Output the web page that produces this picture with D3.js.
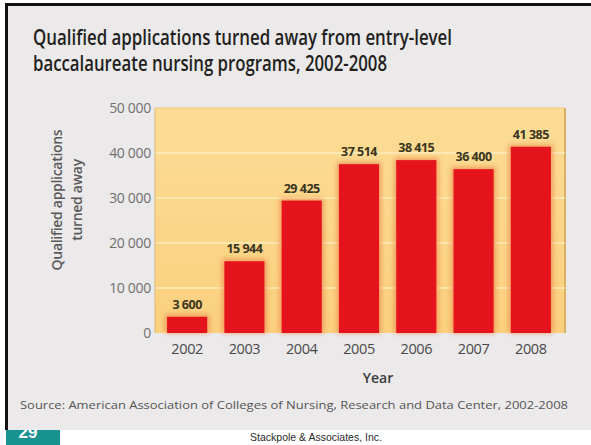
<!DOCTYPE html>
<html><head><meta charset="utf-8">
<script src="https://cdn.jsdelivr.net/npm/d3@7"></script>
<style>html,body{margin:0;padding:0;background:#fff;}svg{display:block;}</style>
</head><body>
<script>
const years = ["2002","2003","2004","2005","2006","2007","2008"];
const values = [3600, 15944, 29425, 37514, 38415, 36400, 41385];
const valueLabels = ["3 600","15 944","29 425","37 514","38 415","36 400","41 385"];
const yTicks = [0, 10000, 20000, 30000, 40000, 50000];
const yTickLabels = ["0","10 000","20 000","30 000","40 000","50 000"];
const titleLines = ["Qualified applications turned away from entry-level","baccalaureate nursing programs, 2002-2008"];
const yTitleLines = ["Qualified applications","turned away"];
const xTitle = "Year";
const sourceText = "Source: American Association of Colleges of Nursing, Research and Data Center, 2002-2008";
const footerText = "Stackpole & Associates, Inc.";
const pageNum = "29";

const W = 591, H = 445;
const svg = d3.select("body").append("svg").attr("width", W).attr("height", H);
const defs = svg.append("defs");
const grad = defs.append("linearGradient").attr("id","bg").attr("x1",0).attr("y1",0).attr("x2",0).attr("y2",1);
grad.append("stop").attr("offset","0%").attr("stop-color","#fcdc96");
grad.append("stop").attr("offset","100%").attr("stop-color","#fad07e");
const blur = defs.append("filter").attr("id","glow").attr("x","-30%").attr("y","-30%").attr("width","160%").attr("height","160%");
blur.append("feGaussianBlur").attr("stdDeviation",2.5);
defs.append("clipPath").attr("id","tealclip").append("rect").attr("x",6).attr("y",430).attr("width",54).attr("height",15);

// page background
svg.append("rect").attr("width",W).attr("height",H).attr("fill","#ffffff");
// teal page number box
svg.append("rect").attr("x",6).attr("y",430).attr("width",54).attr("height",15).attr("fill","#17928f");
svg.append("text").attr("clip-path","url(#tealclip)").attr("x",28).attr("y",438)
  .attr("text-anchor","middle").attr("font-family","Liberation Sans, Arial, sans-serif")
  .attr("font-weight","bold").attr("font-size",17).attr("fill","#fff").text(pageNum);
// grey panel
svg.append("rect").attr("x",8).attr("y",6).attr("width",W-8).attr("height",424).attr("fill","#ebe9ea");
// black frame lines
svg.append("rect").attr("x",6).attr("y",3).attr("width",W-6).attr("height",3).attr("fill","#111");
svg.append("rect").attr("x",5).attr("y",3).attr("width",3).attr("height",427).attr("fill","#111");

// title
svg.append("g").selectAll("text").data(titleLines).join("text")
  .attr("x",33).attr("y",(d,i)=>45+i*26)
  .attr("font-family","Open Sans, sans-serif").attr("font-weight",600).attr("font-size",21)
  .attr("fill","#231f20")
  .attr("textLength",(d,i)=> i===0 ? 419 : 354).attr("lengthAdjust","spacingAndGlyphs")
  .text(d=>d);

// scales
const x = d3.scaleBand().domain(years).range([158.5,559.5]).paddingInner(0.3).paddingOuter(0.15);
const y = d3.scaleLinear().domain([0,50000]).range([333,108]);

// plot background
svg.append("rect").attr("x",155).attr("y",y(50000)).attr("width",410).attr("height",y(0)-y(50000))
  .attr("fill","url(#bg)");
svg.append("line").attr("x1",565).attr("x2",565).attr("y1",y(50000)).attr("y2",y(0))
  .attr("stroke","#d9b066").attr("stroke-width",2);
svg.append("line").attr("x1",155).attr("x2",565).attr("y1",y(50000)).attr("y2",y(50000))
  .attr("stroke","#f3c978").attr("stroke-width",1);
// gridlines (light stripes)
svg.append("g").selectAll("line").data(yTicks.slice(1,5)).join("line")
  .attr("x1",155).attr("x2",565).attr("y1",d=>y(d)).attr("y2",d=>y(d))
  .attr("stroke","#ffeec0").attr("stroke-width",2).attr("opacity",0.7);
svg.append("line").attr("x1",155).attr("x2",155).attr("y1",y(50000)).attr("y2",y(0))
  .attr("stroke","#d8b878").attr("stroke-width",1);

// y axis
const yAxis = d3.axisLeft(y).tickValues(yTicks).tickSize(0).tickPadding(0)
  .tickFormat((d,i)=>yTickLabels[i]);
const gy = svg.append("g").attr("transform","translate(151,0)").call(yAxis);
gy.select(".domain").remove();
gy.selectAll("text").attr("font-family","Open Sans, sans-serif").attr("font-size",14)
  .attr("fill","#707070").attr("dy","0.35em").attr("letter-spacing","-0.3");

// x axis
const xAxis = d3.axisBottom(x).tickSize(0).tickPadding(0);
const gx = svg.append("g").attr("transform","translate(0,344)").call(xAxis);
gx.select(".domain").remove();
gx.selectAll("text").attr("font-family","Open Sans, sans-serif").attr("font-size",14.5)
  .attr("fill","#4a4a4a").attr("dy","0.7em").attr("letter-spacing","-0.4");

// bars with glow
const data = years.map((yr,i)=>({yr, v: values[i], lab: valueLabels[i]}));
svg.append("g").selectAll("rect").data(data).join("rect")
  .attr("x",d=>x(d.yr)-2).attr("y",d=>y(d.v)-2).attr("width",x.bandwidth()+4)
  .attr("height",d=>y(0)-y(d.v)+2).attr("fill","#f08a50").attr("opacity",0.8).attr("filter","url(#glow)");
svg.append("g").selectAll("rect").data(data).join("rect")
  .attr("x",d=>x(d.yr)).attr("y",d=>y(d.v)).attr("width",x.bandwidth())
  .attr("height",d=>y(0)-y(d.v)).attr("fill","#e5141c");

// value labels
svg.append("g").selectAll("text").data(data).join("text")
  .attr("x",d=>x(d.yr)+x.bandwidth()/2).attr("y",d=>y(d.v)-8)
  .attr("text-anchor","middle").attr("font-family","Open Sans, sans-serif").attr("font-weight",700)
  .attr("font-size",12.5).attr("letter-spacing","-0.5").attr("fill","#3a3520").text(d=>d.lab);

// axis titles
svg.append("g").attr("transform","translate(0,200)").selectAll("text").data(yTitleLines).join("text")
  .attr("transform",(d,i)=>`translate(${62+i*20},0) rotate(-90)`)
  .attr("text-anchor","middle").attr("font-family","Open Sans, sans-serif").attr("font-weight",600)
  .attr("font-size",14).attr("fill","#5a5a5a").attr("letter-spacing","-0.3").text(d=>d);
svg.append("text").attr("x",378).attr("y",383).attr("text-anchor","middle")
  .attr("font-family","Open Sans, sans-serif").attr("font-weight",600).attr("font-size",14)
  .attr("fill","#3a3a3a").text(xTitle);

// source
svg.append("text").attr("x",20).attr("y",409).attr("font-family","Open Sans, sans-serif")
  .attr("font-size",11).attr("fill","#555").attr("textLength",548).attr("lengthAdjust","spacingAndGlyphs")
  .text(sourceText);

// footer
svg.append("text").attr("x",316).attr("y",441).attr("text-anchor","middle")
  .attr("font-family","Liberation Sans, Arial, sans-serif").attr("font-size",10.5).attr("fill","#2a2a2a")
  .text(footerText);
</script>
</body></html>
